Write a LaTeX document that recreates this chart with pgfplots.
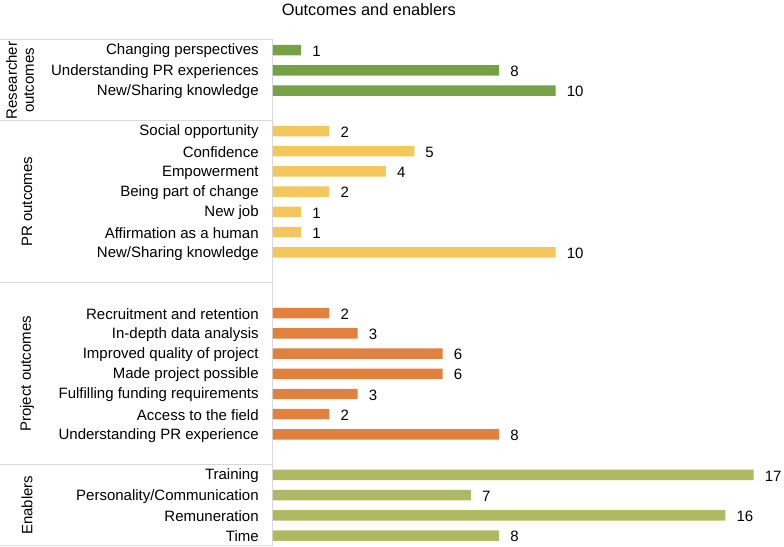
\documentclass[border=0pt]{standalone}
\usepackage{pgfplots}
\pgfplotsset{compat=1.18}
\usepackage{fontspec}
\setmainfont{Liberation Sans}

\definecolor{resgreen}{HTML}{77A146}
\definecolor{pryellow}{HTML}{F3C75B}
\definecolor{projorange}{HTML}{E2803D}
\definecolor{enabolive}{HTML}{AEBA63}
\definecolor{frame}{HTML}{D9D9D9}

\begin{document}
\begin{tikzpicture}
  \fontsize{15}{17}\selectfont
  \begin{axis}[
      scale only axis,
      width=509.4pt, height=506pt,
      xmin=0, xmax=18,
      ymin=-0.5, ymax=24.5,
      y dir=reverse,
      hide x axis,
      axis y line*=left,
      axis line style={frame, line width=1pt},
      ytick={0,1,2,4,5,6,7,8,9,10,13,14,15,16,17,18,19,21,22,23,24},
      yticklabels={
        Changing perspectives\hspace{5pt},
        Understanding PR experiences,
        New/Sharing knowledge,
        Social opportunity,
        Confidence,
        Empowerment,
        Being part of change,
        New job,
        Affirmation as a human,
        New/Sharing knowledge,
        Recruitment and retention\hspace{5pt},
        In-depth data analysis,
        Improved quality of project,
        Made project possible\hspace{4pt},
        Fulfilling funding requirements,
        Access to the field,
        Understanding PR experience,
        Training,
        Personality/Communication,
        Remuneration\hspace{4pt},
        Time\hspace{3pt}},
      major tick length=0pt,
      yticklabel style={font=\fontsize{15}{17}\selectfont, xshift=-9pt, yshift=-1pt},
      /pgf/number format/assume math mode=true,
      xbar, bar width=10.5pt, bar shift=0pt,
      nodes near coords,
      nodes near coords style={font=\fontsize{15}{17}\selectfont, anchor=west, xshift=6pt, yshift=-1pt, text=black},
      clip=false,
    ]
    % researcher outcomes
    \addplot[draw=none, fill=resgreen] coordinates {(1,0) (8,1) (10,2)};
    % PR outcomes
    \addplot[draw=none, fill=pryellow] coordinates {(2,4) (5,5) (4,6) (2,7) (1,8) (1,9) (10,10)};
    % project outcomes
    \addplot[draw=none, fill=projorange] coordinates {(2,13) (3,14) (6,15) (6,16) (3,17) (2,18) (8,19)};
    % enablers
    \addplot[draw=none, fill=enabolive] coordinates {(17,21) (7,22) (16,23) (8,24)};

    % group boxes on the left
    \draw[frame, line width=1pt] (axis cs:0,-0.5) -- ([xshift=-273pt]axis cs:0,-0.5);
    \draw[frame, line width=1pt] (axis cs:0,3.5) -- ([xshift=-273pt]axis cs:0,3.5);
    \draw[frame, line width=1pt] (axis cs:0,11.5) -- ([xshift=-273pt]axis cs:0,11.5);
    \draw[frame, line width=1pt] (axis cs:0,20.5) -- ([xshift=-273pt]axis cs:0,20.5);
    \draw[frame, line width=1pt] (axis cs:0,24.5) -- ([xshift=-273pt]axis cs:0,24.5);
    \node[rotate=90, align=center, font=\fontsize{15}{17}\selectfont, inner sep=0pt]
      at ([xshift=-253pt]axis cs:0,1.5) {Researcher\\outcomes};
    \node[rotate=90, font=\fontsize{15}{17}\selectfont, inner sep=0pt]
      at ([xshift=-246pt]axis cs:0,7.5) {PR outcomes};
    \node[rotate=90, font=\fontsize{15}{17}\selectfont, inner sep=0pt]
      at ([xshift=-246pt]axis cs:0,16) {Project outcomes};
    \node[rotate=90, font=\fontsize{15}{17}\selectfont, inner sep=0pt]
      at ([xshift=-246pt]axis cs:0,22.5) {Enablers};

    \coordinate (tl) at (axis cs:0,-0.5);
    \coordinate (br) at (axis cs:18,24.5);
  \end{axis}
  \node[font=\fontsize{16.4}{19}\selectfont, inner sep=0pt]
    at ([xshift=96pt,yshift=30pt]tl) {Outcomes and enablers};
  \pgfresetboundingbox
  \useasboundingbox ([xshift=-273pt,yshift=40pt]tl) rectangle ([xshift=2pt,yshift=-1pt]br);
\end{tikzpicture}
\end{document}
